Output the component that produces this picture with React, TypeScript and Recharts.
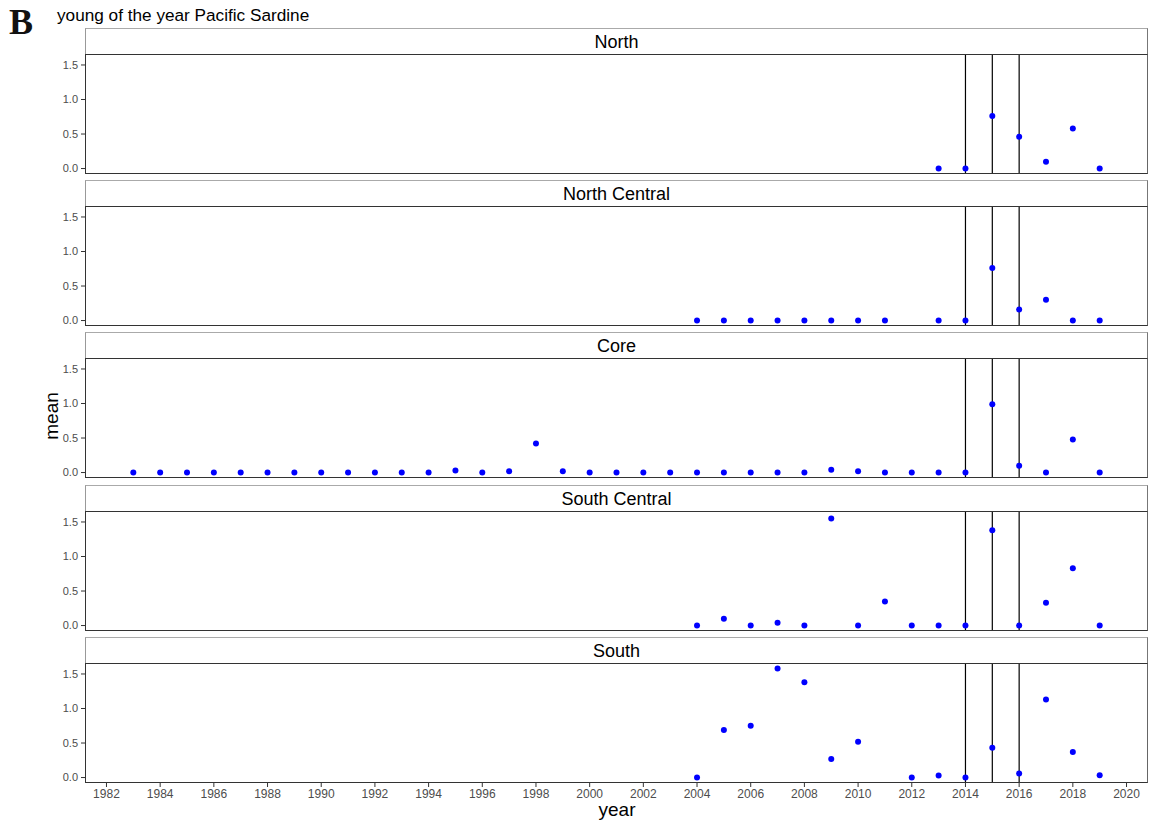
import React from 'react';
import { ScatterChart, Scatter, XAxis, YAxis, ReferenceLine } from 'recharts';

const regionNames = ['North', 'North Central', 'Core', 'South Central', 'South'];

const northYears = [2013, 2014, 2015, 2016, 2017, 2018, 2019];
const northMeans = [0, 0, 0.76, 0.46, 0.1, 0.58, 0];

const northCentralYears = [2004, 2005, 2006, 2007, 2008, 2009, 2010, 2011, 2013, 2014, 2015, 2016, 2017, 2018, 2019];
const northCentralMeans = [0, 0, 0, 0, 0, 0, 0, 0, 0, 0, 0.76, 0.16, 0.3, 0, 0];

const coreYears = [1983, 1984, 1985, 1986, 1987, 1988, 1989, 1990, 1991, 1992, 1993, 1994, 1995, 1996, 1997, 1998, 1999, 2000, 2001, 2002, 2003, 2004, 2005, 2006, 2007, 2008, 2009, 2010, 2011, 2012, 2013, 2014, 2015, 2016, 2017, 2018, 2019];
const coreMeans = [0, 0, 0, 0, 0, 0, 0, 0, 0, 0, 0, 0, 0.03, 0, 0.02, 0.42, 0.02, 0, 0, 0, 0, 0, 0, 0, 0, 0, 0.04, 0.02, 0, 0, 0, 0, 0.99, 0.1, 0, 0.48, 0];

const southCentralYears = [2004, 2005, 2006, 2007, 2008, 2009, 2010, 2011, 2012, 2013, 2014, 2015, 2016, 2017, 2018, 2019];
const southCentralMeans = [0, 0.1, 0, 0.04, 0, 1.55, 0, 0.35, 0, 0, 0, 1.38, 0, 0.33, 0.83, 0];

const southYears = [2004, 2005, 2006, 2007, 2008, 2009, 2010, 2012, 2013, 2014, 2015, 2016, 2017, 2018, 2019];
const southMeans = [0, 0.69, 0.75, 1.58, 1.38, 0.27, 0.52, 0, 0.03, 0, 0.43, 0.06, 1.13, 0.37, 0.035];

const yTicks = [0, 0.5, 1, 1.5];
const xTicks = [1982, 1984, 1986, 1988, 1990, 1992, 1994, 1996, 1998, 2000, 2002, 2004, 2006, 2008, 2010, 2012, 2014, 2016, 2018, 2020];
const markerYears = [2014, 2015, 2016];

const panelYears = [northYears, northCentralYears, coreYears, southCentralYears, southYears];
const panelMeans = [northMeans, northCentralMeans, coreMeans, southCentralMeans, southMeans];

const FONT = '"Liberation Sans", Arial, sans-serif';
const PLOT_LEFT = 85;
const PLOT_WIDTH = 1063;
const PLOT_HEIGHT = 120;
const STRIP_HEIGHT = 26;
const FIRST_STRIP_TOP = 28;
const PITCH = 152.2;

const Dot = (props: any) => {
  const { cx, cy } = props;
  if (cx == null || cy == null) return null;
  return <circle cx={cx} cy={cy} r={3} fill="#0000ff" />;
};

function Panel({ index }: { index: number }) {
  const name = regionNames[index];
  const data = panelYears[index].map((y, i) => ({ year: y, mean: panelMeans[index][i] }));
  const showX = index === regionNames.length - 1;
  const stripTop = Math.round(FIRST_STRIP_TOP + PITCH * index);
  const plotTop = stripTop + STRIP_HEIGHT;
  return (
    <>
      <div
        style={{
          position: 'absolute',
          left: PLOT_LEFT,
          top: stripTop,
          width: PLOT_WIDTH,
          height: STRIP_HEIGHT,
          boxSizing: 'border-box',
          borderTop: '1px solid #aaaaaa',
          borderLeft: '1px solid #999999',
          borderRight: '1px solid #777777',
          background: '#ffffff',
          textAlign: 'center',
          fontFamily: FONT,
          fontSize: 18,
          lineHeight: `${STRIP_HEIGHT}px`,
          color: '#000000',
        }}
      >
        {name}
      </div>
      <div style={{ position: 'absolute', left: 0, top: plotTop }}>
        <ScatterChart
          width={PLOT_LEFT + PLOT_WIDTH + 2}
          height={PLOT_HEIGHT + (showX ? 26 : 0)}
          margin={{ top: 0, right: 2, bottom: 0, left: 0 }}
        >
          <XAxis
            type="number"
            dataKey="year"
            domain={[1981.2, 2020.8]}
            ticks={xTicks}
            allowDataOverflow
            hide={!showX}
            height={26}
            axisLine={false}
            tickLine={{ stroke: '#333333' }}
            tickSize={4}
            tickMargin={2}
            tick={{ fontSize: 12, fill: '#4d4d4d', fontFamily: FONT }}
            interval={0}
          />
          <YAxis
            type="number"
            dataKey="mean"
            domain={[-0.079, 1.659]}
            ticks={yTicks}
            interval={0}
            allowDataOverflow
            width={PLOT_LEFT}
            axisLine={false}
            tickLine={{ stroke: '#333333' }}
            tickSize={4}
            tickMargin={3}
            tickFormatter={(v: number) => v.toFixed(1)}
            tick={{ fontSize: 11, fill: '#4d4d4d', fontFamily: FONT }}
          />
          {markerYears.map((y) => (
            <ReferenceLine key={y} x={y} stroke="#000000" strokeWidth={1.2} ifOverflow="visible" />
          ))}
          <Scatter data={data} shape={<Dot />} isAnimationActive={false} />
        </ScatterChart>
      </div>
      <div
        style={{
          position: 'absolute',
          left: PLOT_LEFT,
          top: plotTop,
          width: PLOT_WIDTH,
          height: PLOT_HEIGHT,
          boxSizing: 'border-box',
          borderTop: '1px solid #333333',
          borderLeft: '1.5px solid #333333',
          borderBottom: '1.5px solid #333333',
          borderRight: '1px solid #666666',
          pointerEvents: 'none',
        }}
      />
    </>
  );
}

export default function App() {
  return (
    <div
      style={{
        position: 'absolute',
        left: 0,
        top: 0,
        width: 1150,
        height: 822,
        background: '#ffffff',
        overflow: 'hidden',
      }}
    >
      <div
        style={{
          position: 'absolute',
          left: 9,
          top: 2,
          fontFamily: '"Liberation Serif", "Times New Roman", serif',
          fontWeight: 'bold',
          fontSize: 36,
          lineHeight: '40px',
          color: '#111',
        }}
      >
        B
      </div>
      <div
        style={{
          position: 'absolute',
          left: 57,
          top: 5,
          fontFamily: FONT,
          fontSize: 17.2,
          lineHeight: '20px',
          color: '#000',
        }}
      >
        young of the year Pacific Sardine
      </div>
      {regionNames.map((_, i) => (
        <Panel key={i} index={i} />
      ))}
      <div
        style={{
          position: 'absolute',
          left: 52,
          top: 416,
          transform: 'translate(-50%, -50%) rotate(-90deg)',
          fontFamily: FONT,
          fontSize: 19,
          color: '#000',
          whiteSpace: 'nowrap',
        }}
      >
        mean
      </div>
      <div
        style={{
          position: 'absolute',
          left: 617,
          top: 810,
          transform: 'translate(-50%, -50%)',
          fontFamily: FONT,
          fontSize: 19,
          color: '#000',
          whiteSpace: 'nowrap',
        }}
      >
        year
      </div>
    </div>
  );
}
